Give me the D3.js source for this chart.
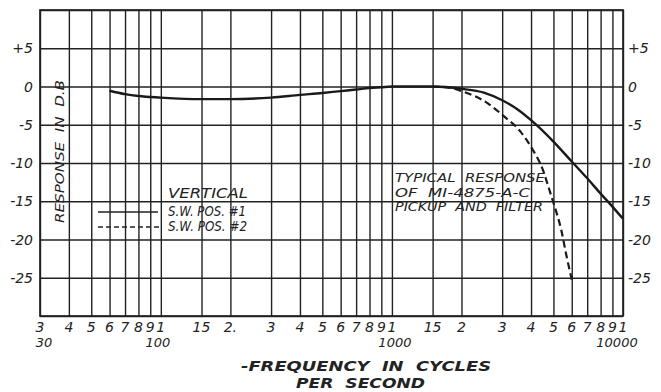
<!DOCTYPE html>
<html>
<head>
<meta charset="utf-8">
<script src="https://cdn.jsdelivr.net/npm/d3@7"></script>
<style>
  html, body { margin: 0; padding: 0; background: #fff; }
  svg { display: block; }
  text { font-family: "DejaVu Sans", sans-serif; font-style: italic; fill: #222; white-space: pre; }
</style>
</head>
<body>
<svg id="chart" width="661" height="392"></svg>
<script>
// Frequency grid (Hz) and the digits lettered under each line
const gridFreqs = [30, 40, 50, 60, 70, 80, 90, 100, 150, 200, 300, 400, 500, 600, 700, 800, 900,
                   1000, 1500, 2000, 3000, 4000, 5000, 6000, 7000, 8000, 9000, 10000];
const gridDigits = ["3", "4", "5", "6", "7", "8", "9", "1", "15", "2.", "3", "4", "5", "6", "7", "8", "9",
                    "1", "15", "2", "3", "4", "5", "6", "7", "8", "9", "1"];
const decadeFreqs = [30, 100, 1000, 10000];
const decadeLabels = ["30", "100", "1000", "10000"];

// Response levels (dB)
const dbGrid = [10, 5, 0, -5, -10, -15, -20, -25, -30];
const dbTicks = [5, 0, -5, -10, -15, -20, -25];
const dbLabels = ["+5", "0", "-5", "-10", "-15", "-20", "-25"];

// S.W. position #1 (solid)
const pos1Freq = [60, 70, 80, 100, 150, 200, 300, 400, 500, 600, 700, 800, 900, 1000, 1500,
                  2000, 2500, 3000, 3500, 4000, 5000, 6000, 7000, 8000, 9000, 10000];
const pos1Db = [-0.55, -1.0, -1.25, -1.45, -1.65, -1.65, -1.45, -1.1, -0.85, -0.6, -0.4, -0.2, -0.1, 0, 0,
                -0.3, -0.8, -1.8, -3.0, -4.4, -7.2, -9.8, -12.0, -14.0, -15.7, -17.3];

// S.W. position #2 (dashed), leaves the solid curve near 1500 c/s
const pos2Freq = [1500, 1800, 2000, 2600, 3000, 3600, 4000, 4500, 4800, 5000, 5400, 5700, 6050];
const pos2Db = [0, -0.2, -0.6, -2.2, -3.7, -5.9, -7.9, -10.9, -13.5, -15.2, -18.7, -22.2, -25.7];

const svg = d3.select("#chart");
const plotL = 40, plotR = 623, plotT = 10, plotB = 316;
const ink = "#222";

const x = d3.scaleLog().domain([30, 10000]).range([plotL, plotR]);
const y = d3.scaleLinear().domain([-30, 10]).range([plotB, plotT]);

// vertical grid
svg.append("g")
  .attr("transform", `translate(0,${plotB})`)
  .call(d3.axisBottom(x).tickValues(gridFreqs).tickSize(-(plotB - plotT)).tickFormat(""))
  .call(g => g.select(".domain").remove())
  .call(g => g.selectAll("line").attr("stroke", ink).attr("stroke-width", 1.4));

// horizontal grid
svg.append("g")
  .attr("transform", `translate(${plotL},0)`)
  .call(d3.axisLeft(y).tickValues(dbGrid).tickSize(-(plotR - plotL)).tickFormat(""))
  .call(g => g.select(".domain").remove())
  .call(g => g.selectAll("line").attr("stroke", ink).attr("stroke-width", 1.4));

// frame
svg.append("rect")
  .attr("x", plotL).attr("y", plotT)
  .attr("width", plotR - plotL).attr("height", plotB - plotT)
  .attr("fill", "none").attr("stroke", ink).attr("stroke-width", 1.7);

// frequency digits
svg.append("g").selectAll("text")
  .data(gridFreqs)
  .join("text")
  .attr("x", d => x(d))
  .attr("y", 332)
  .attr("text-anchor", "middle")
  .attr("font-size", 14)
  .text((d, i) => gridDigits[i]);

const decadeShift = [4, -3, 3, -6];
svg.append("g").selectAll("text")
  .data(decadeFreqs)
  .join("text")
  .attr("x", (d, i) => x(d) + decadeShift[i])
  .attr("y", 347)
  .attr("text-anchor", "middle")
  .attr("font-size", 13)
  .text((d, i) => decadeLabels[i]);

// dB labels on both sides
svg.append("g").selectAll("text")
  .data(dbTicks)
  .join("text")
  .attr("x", 33)
  .attr("y", d => y(d) + 5)
  .attr("text-anchor", "end")
  .attr("font-size", 14)
  .text((d, i) => dbLabels[i]);

svg.append("g").selectAll("text")
  .data(dbTicks)
  .join("text")
  .attr("x", 628)
  .attr("y", d => y(d) + 5)
  .attr("text-anchor", "start")
  .attr("font-size", 14)
  .text((d, i) => dbLabels[i]);

// curves
const line = d3.line()
  .x(d => x(d[0]))
  .y(d => y(d[1]))
  .curve(d3.curveMonotoneX);

svg.append("path")
  .datum(d3.zip(pos1Freq, pos1Db))
  .attr("d", line)
  .attr("fill", "none")
  .attr("stroke", "#1a1a1a")
  .attr("stroke-width", 2.4);

svg.append("path")
  .datum(d3.zip(pos2Freq, pos2Db))
  .attr("d", line)
  .attr("fill", "none")
  .attr("stroke", "#1a1a1a")
  .attr("stroke-width", 2.2)
  .attr("stroke-dasharray", "7,4");

// wide hand-style lettering: stretch glyphs to a set width
function lettering(sel, width) {
  return sel.attr("textLength", width).attr("lengthAdjust", "spacingAndGlyphs");
}

// axis titles
svg.append("text")
  .attr("transform", "translate(64,223) rotate(-90)")
  .attr("font-size", 11.5)
  .call(lettering, 143)
  .text("RESPONSE  IN  D.B");

svg.append("text")
  .attr("x", 241).attr("y", 371)
  .attr("font-size", 14)
  .attr("font-weight", "bold")
  .call(lettering, 250)
  .text("-FREQUENCY  IN  CYCLES");

svg.append("text")
  .attr("x", 296).attr("y", 388)
  .attr("font-size", 14)
  .attr("font-weight", "bold")
  .call(lettering, 129)
  .text("PER  SECOND");

// legend
svg.append("text").attr("x", 168).attr("y", 198).attr("font-size", 13.5)
  .call(lettering, 80).text("VERTICAL");
svg.append("line").attr("x1", 98).attr("x2", 158).attr("y1", 212).attr("y2", 212)
  .attr("stroke", ink).attr("stroke-width", 1.4);
svg.append("text").attr("x", 168).attr("y", 216).attr("font-size", 13.5)
  .call(lettering, 78).text("S.W. POS. #1");
svg.append("line").attr("x1", 98).attr("x2", 160).attr("y1", 227).attr("y2", 227)
  .attr("stroke", ink).attr("stroke-width", 1.4).attr("stroke-dasharray", "5,3");
svg.append("text").attr("x", 168).attr("y", 231).attr("font-size", 13.5)
  .call(lettering, 79).text("S.W. POS. #2");

// note
const note = ["TYPICAL  RESPONSE", "OF  MI-4875-A-C", "PICKUP  AND  FILTER"];
const noteWidth = [150, 135, 148];
svg.append("g").selectAll("text")
  .data(note)
  .join("text")
  .attr("x", 395)
  .attr("y", (d, i) => [182, 197, 211][i])
  .attr("font-size", 11.5)
  .attr("textLength", (d, i) => noteWidth[i])
  .attr("lengthAdjust", "spacingAndGlyphs")
  .text(d => d);
</script>
</body>
</html>
